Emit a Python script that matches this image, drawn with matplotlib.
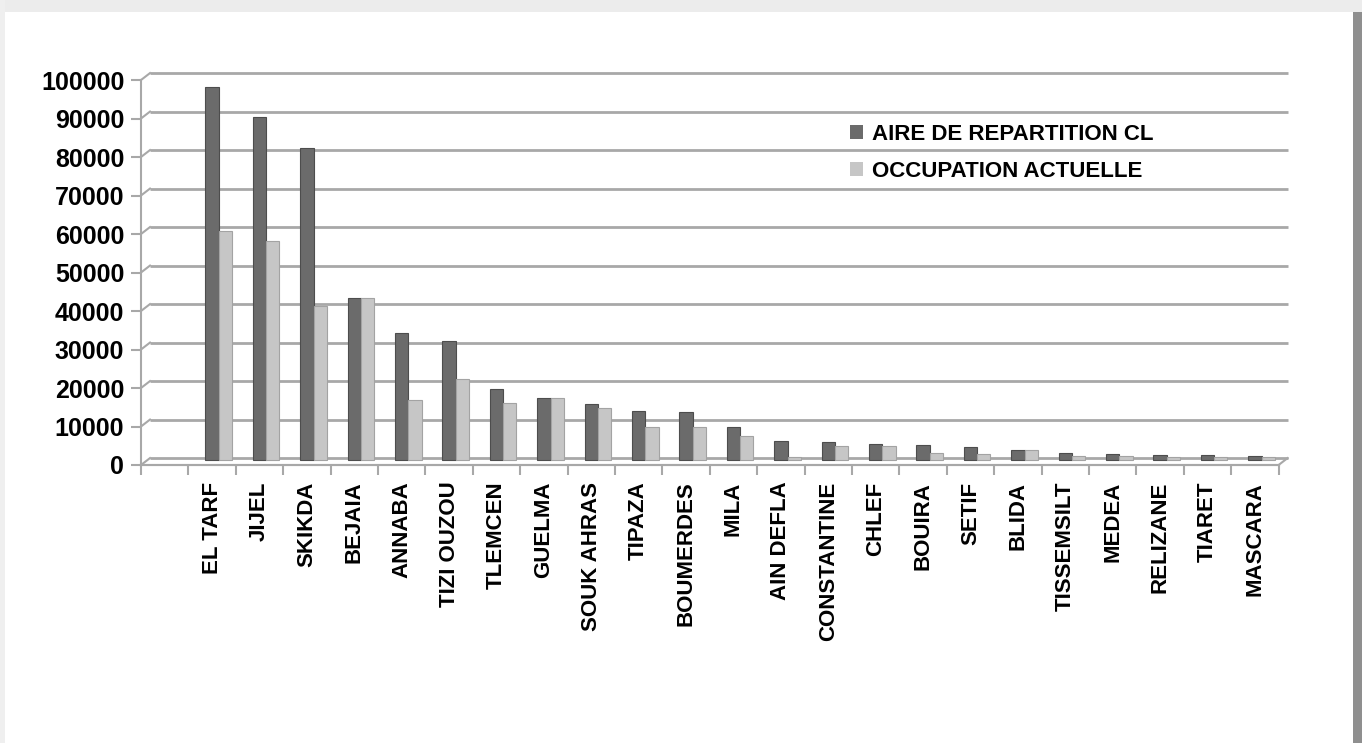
import matplotlib
matplotlib.use("Agg")
import matplotlib.pyplot as plt
from matplotlib.patches import Rectangle, Patch
import numpy as np

wilayas = ["EL TARF", "JIJEL", "SKIKDA", "BEJAIA", "ANNABA", "TIZI OUZOU",
           "TLEMCEN", "GUELMA", "SOUK AHRAS", "TIPAZA", "BOUMERDES", "MILA",
           "AIN DEFLA", "CONSTANTINE", "CHLEF", "BOUIRA", "SETIF", "BLIDA",
           "TISSEMSILT", "MEDEA", "RELIZANE", "TIARET", "MASCARA"]
aire = [97000, 89000, 81000, 42000, 33000, 31000, 18500, 16000, 14500,
        12800, 12400, 8500, 5000, 4600, 4200, 4000, 3400, 2600, 1800,
        1500, 1300, 1200, 1000]
occupation = [59500, 57000, 40000, 42000, 15500, 21000, 14800, 16200, 13400,
              8600, 8600, 6200, 900, 3600, 3700, 1900, 1500, 2600, 1000,
              1000, 900, 700, 800]
yticks = list(range(0, 100001, 10000))

label_aire = "AIRE DE REPARTITION CL"
label_occ = "OCCUPATION ACTUELLE"

dark = "#6b6b6b"
light = "#c6c6c6"
grid_col = "#a8a8a8"

plt.rcParams["font.family"] = ["Liberation Sans", "DejaVu Sans"]

fig = plt.figure(figsize=(13.62, 7.43), dpi=100)
fig.patch.set_facecolor("white")

# screenshot frame
fig.patches.append(Rectangle((0, 1 - 12 / 743), 1, 12 / 743, transform=fig.transFigure,
                             facecolor="#ececec", edgecolor="none", zorder=0))
fig.patches.append(Rectangle((0, 0), 5 / 1362, 1, transform=fig.transFigure,
                             facecolor="#efefef", edgecolor="none", zorder=0))
fig.patches.append(Rectangle((1 - 9 / 1362, 0), 9 / 1362, 1 - 12 / 743, transform=fig.transFigure,
                             facecolor="#8f8f8f", edgecolor="none", zorder=0))

ax = fig.add_axes([141 / 1362, 278 / 743, 1137.6 / 1362, 392 / 743])
ax.set_facecolor("none")

front = -1300   # front edge of the 3D box
back = 500      # back wall
dx = 0.19       # depth shift

x = np.arange(len(wilayas))
w = 0.28
ax.bar(x, aire, width=w, color=dark, edgecolor="#4d4d4d", linewidth=0.8, zorder=3)
ax.bar(x + w, occupation, width=w, color=light, edgecolor="#a3a3a3", linewidth=0.8, zorder=3)

x0, x1 = -1.5, len(wilayas) - 0.5
for v in yticks:
    ax.plot([x0 + dx, x1 + dx], [v + back, v + back], color=grid_col, lw=2, zorder=1,
            clip_on=False, solid_capstyle="butt")
    ax.plot([x0, x0 + dx], [v + front, v + back], color=grid_col, lw=1.5, zorder=1,
            clip_on=False)
# floor
ax.plot([x0, x1], [front, front], color=grid_col, lw=1.5, zorder=2, clip_on=False)
ax.plot([x1, x1 + dx], [front, back], color=grid_col, lw=1.5, zorder=2, clip_on=False)

ax.set_xlim(x0, x1)
ax.set_ylim(front, 100520)

for s in ["top", "right"]:
    ax.spines[s].set_visible(False)
ax.spines["bottom"].set_color(grid_col)
ax.spines["bottom"].set_linewidth(1.5)
ax.spines["left"].set_color(grid_col)
ax.spines["left"].set_linewidth(1.5)
ax.spines["left"].set_bounds(front, 100000 + front)

ax.set_yticks([v + front for v in yticks])
ax.set_yticklabels([str(v) for v in yticks], fontsize=18, fontweight="bold")
ax.tick_params(axis="y", length=7, color=grid_col, width=1.5, pad=5)

ax.set_xticks(x)
ax.set_xticklabels(wilayas, rotation=90, fontsize=16, fontweight="bold")
ax.set_xticks(np.arange(x0, x1 + 0.01, 1.0), minor=True)
ax.tick_params(axis="x", which="major", length=0, pad=12)
ax.tick_params(axis="x", which="minor", length=7, color=grid_col, width=1.5)

handles = [Patch(facecolor=dark, edgecolor="none"), Patch(facecolor=light, edgecolor="none")]
fig.legend(handles, [label_aire, label_occ], loc="upper left",
           bbox_to_anchor=(830 / 1362, 1 - 104 / 743), frameon=False,
           prop={"size": 16, "weight": "bold"}, handlelength=0.6, handleheight=0.6,
           handletextpad=0.4, labelspacing=0.72)

fig.savefig("out.png", dpi=100, facecolor=fig.get_facecolor())
